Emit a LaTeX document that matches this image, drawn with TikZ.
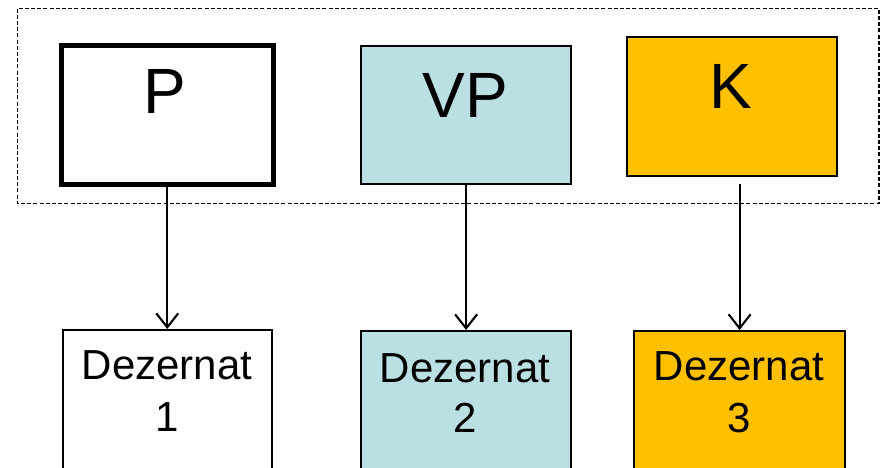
\documentclass[tikz,border=0pt]{standalone}
\usepackage{fontspec}
\setmainfont{Liberation Sans}
\usetikzlibrary{arrows.meta}
\definecolor{boxcyan}{HTML}{BBE0E3}
\definecolor{boxorange}{HTML}{FFC000}
\begin{document}
\begin{tikzpicture}[x=1pt,y=-1pt,
  unitbox/.style={draw=black, line width=2.2pt, rectangle, inner sep=0pt, anchor=north west},
  headtext/.style={anchor=base, inner sep=0pt, font=\fontsize{64}{64}\selectfont},
  deptext/.style={anchor=base, inner sep=0pt, font=\fontsize{42}{50}\selectfont},
  link/.style={line width=2.1pt, -{Straight Barb[length=14pt,width=22pt,line width=2.1pt]}}]
  \useasboundingbox (0,0) rectangle (885,467);
  % leadership group frame
  \draw[line width=1.4pt, dash pattern=on 4pt off 2.2pt] (17.5,8.5) rectangle (879,203.5);
  % leadership boxes
  \node[unitbox, line width=4.5pt, fill=white, minimum width=212pt, minimum height=139pt] (p) at (59,43) {};
  \node[unitbox, fill=boxcyan, minimum width=210pt, minimum height=138pt] (vp) at (360,45) {};
  \node[unitbox, fill=boxorange, minimum width=210pt, minimum height=139pt] (k) at (626,36) {};
  \node[headtext] (pt) at (165,113) {P};
  \node[headtext] (vpt) at (465,117) {VP};
  \node[headtext] (kt) at (731,108) {K};
  % departments
  \node[unitbox, fill=white, minimum width=209pt, minimum height=160pt] (d1) at (62,329) {};
  \node[unitbox, fill=boxcyan, minimum width=210pt, minimum height=160pt] (d2) at (360,330) {};
  \node[unitbox, fill=boxorange, minimum width=211pt, minimum height=160pt] (d3) at (633,330) {};
  \node[deptext] (d1a) at (167,379) {Dezernat};
  \node[deptext] (d1b) at (167,431) {1};
  \node[deptext] (d2a) at (465,382) {Dezernat};
  \node[deptext] (d2b) at (465,432) {2};
  \node[deptext] (d3a) at (739,380) {Dezernat};
  \node[deptext] (d3b) at (739,432) {3};
  % reporting lines
  \draw[link] (p.south) -- (p.south |- d1.north);
  \draw[link] (vp.south) -- (vp.south |- d2.north);
  \draw[link, shorten <=7pt] (d3.north |- k.south) -- (d3.north);
\end{tikzpicture}
\end{document}
